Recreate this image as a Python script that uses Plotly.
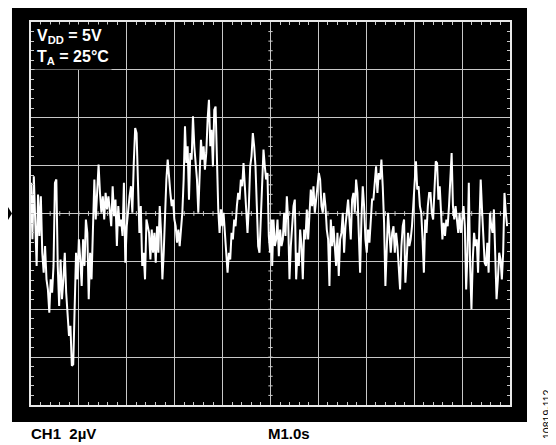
import numpy as np
import plotly.graph_objects as go

# ---- data (µV, read from the oscilloscope capture; 2 µV/div, 1 s/div) ----
seg1_v = [1.28, -1.08, 1.56, -0.39, -2.19, 0.79, -0.94, 0.72, -1.64, -2.47,
          -1.36, -2.75, -3.17, -4.14, -2.75, -3.31, -2.19, 1.28, 1.42, -2.19,
          -3.86, -1.92, -3.58, -2.75, -1.64, -3.31, -4.14, -5.11, -4.69, -6.36,
          -6.30, -3.86, -1.64, -2.75, -1.08, -1.92, -3.03, -1.08, -2.19, -0.25,
          -0.81, -3.58, -1.64, -2.75, -0.81, 1.42, -0.25, 1.28, 2.04, 0.86,
          0.03, 0.72, -0.25, 0.86, 0.17, 0.72, -0.11, -0.53, 1.14, -0.11,
          0.58, -1.36, 0.31, -0.53, -0.25, -0.94, 1.28, -2.06, -0.53, 0.17,
          0.72, 1.14, 0.03, 2.11, 3.57, 3.36, 1.42, -0.81, 0.31, -2.19,
          -1.64, -2.75, -0.25]
seg2_v = [-0.81, -1.92, -0.67, -1.64, -0.81, -2.06, -0.53, -1.64, 0.31, -0.81,
          -2.75, -1.64, 0.31, 1.42, 2.25, 1.42, 0.86, 0.31, 0.58, -0.25,
          -0.53, -1.22, -0.67, -1.36, -0.53, 0.03, 1.42, 3.64, 2.11, 2.81,
          0.58, 2.53, 2.25, 4.06, 2.81, 1.97, 1.42, 0.03, 1.56, 3.08,
          2.25, 2.81, 1.83, 2.53, 3.92, 4.75, 2.81, 3.50, 1.97, 4.33,
          4.47, 2.25, 0.17, -0.81, 0.17, -0.53, 0.03, -0.81, -1.64, -2.47,
          -1.64, -1.92, -0.81, -1.08, -0.25, -0.53, 0.31, 0.86, 0.58, 1.42,
          1.14, 2.11, 1.14, 0.03, -0.81, 0.31, 1.97, 2.39, 3.36, 2.81,
          1.97, 0.31, -1.36, -1.64, -0.25, 1.42, 2.67, 1.97, 1.42, 1.69,
          -0.94, -1.64, -0.25]
seg3_v = [-2.19, -0.25, -1.36, -1.08, -0.25, -1.78, -0.67, -1.36, -1.08, 0.03,
          -0.94, 0.72, -0.25, -2.75, -1.36, -0.53, 0.31, 0.58, -2.75, -1.64,
          -2.19, -0.67, -1.36, -2.75, -0.67, -1.08, 0.17, -1.08, -0.25, 1.00,
          0.31, 1.14, 0.03, 0.58, 1.42, 1.69, 1.42, 0.31, 0.03, 0.86,
          0.31, -0.67, -1.08, -3.03, -0.25, -1.36, -0.53, -1.64, -2.19, -0.81,
          -2.61, -1.08, -0.81, 0.03, -1.64, -0.53, 0.03, 0.58, -0.25, -1.08,
          0.58, 0.86, 0.03, 1.42, 0.86, -1.36, -2.47, -0.25, 1.14, 0.31,
          -1.08, -1.64, -0.67, -1.22, -0.25, 0.58, 0.58, 1.42, 1.97, 0.86,
          1.69, 1.42, 2.25, 1.14, -0.39, -3.03, -1.08, 0.03, -0.81, -1.64]
seg4_v = [-0.81, -0.53, -1.64, -0.81, -1.36, -2.47, -3.17, -1.36, -0.53, -0.25,
          -2.89, -1.92, -0.81, -1.36, -1.08, -0.53, 0.58, 1.69, 2.18, 1.00,
          1.14, 0.31, 0.03, -1.08, -2.47, -0.25, -0.81, 0.31, 0.86, 0.86,
          0.03, -0.25, 1.42, 2.18, 2.11, 0.58, 1.14, -0.25, -1.08, -0.39,
          -0.94, -0.25, -0.53, 0.31, 1.42, 2.53, 0.31, -0.25, 0.31, -0.25,
          -0.81, 0.03, -0.81, -0.25, 0.31, -0.53, -3.17, -1.64, 1.28, -2.19,
          -4.00, -1.92, -0.81, -1.36, -1.08, -2.47, -0.53, 1.42, 0.17, -1.08,
          -2.06, -2.19, -1.22, -2.47, 0.03, -0.53, -0.81, 0.17, -2.19, -3.58,
          -2.75, -1.64, -1.92, -2.75, -1.64, 0.86, 0.03, -0.53]
# time span (s) of each segment
seg_spans = [(0.0, 2.41), (2.465, 5.02), (5.035, 7.51), (7.54, 9.94)]

t = np.concatenate([np.linspace(a, b, len(v)) for (a, b), v in
                    zip(seg_spans, [seg1_v, seg2_v, seg3_v, seg4_v])])
v = np.concatenate([seg1_v, seg2_v, seg3_v, seg4_v])

X_RANGE = [0, 10]
Y_RANGE = [-8, 8]
GRID = "#c8c8c8"
FONT = "Liberation Sans, Arial, sans-serif"

fig = go.Figure()

# centre-line graticule ticks
cx, cy = [], []
for xv in np.arange(0.2, 10, 0.2):
    cx += [xv, xv, None]
    cy += [-0.1, 0.1, None]
for yv in np.arange(-7.6, 8, 0.4):
    cx += [4.955, 5.045, None]
    cy += [yv, yv, None]
fig.add_trace(go.Scatter(x=cx, y=cy, mode="lines",
                         line=dict(color=GRID, width=1),
                         hoverinfo="skip", showlegend=False))

fig.add_trace(go.Scatter(x=t, y=v, mode="lines",
                         line=dict(color="white", width=2),
                         showlegend=False))

axis_common = dict(showgrid=True, gridcolor=GRID, gridwidth=1,
                   zeroline=False, showticklabels=False,
                   ticks="inside", ticklen=3, tickcolor=GRID,
                   showline=True, linecolor="#e8e8e8", linewidth=1.5,
                   mirror="allticks", fixedrange=True)
fig.update_xaxes(range=X_RANGE, dtick=1,
                 minor=dict(dtick=0.2, ticks="inside", ticklen=3,
                            tickcolor=GRID, showgrid=False),
                 **axis_common)
fig.update_yaxes(range=Y_RANGE, dtick=2,
                 minor=dict(dtick=0.4, ticks="inside", ticklen=3,
                            tickcolor=GRID, showgrid=False),
                 **axis_common)

# black screen surround
fig.add_shape(type="rect", xref="paper", yref="paper",
              x0=-0.0397, x1=1.0355, y0=-0.0444, y1=1.0418,
              fillcolor="black", line=dict(width=0), layer="below")
# ground-level marker arrow
fig.add_shape(type="path", xref="paper", yref="paper",
              path="M -0.0647,0.522 L -0.0505,0.522 L -0.0397,0.5 "
                   "L -0.0505,0.478 L -0.0647,0.478 Z",
              fillcolor="black", line=dict(width=0))

fig.add_annotation(xref="paper", yref="paper", x=0.006, y=0.996,
                   xanchor="left", yanchor="top", align="left",
                   text="<b>V<sub>DD</sub> = 5V<br>T<sub>A</sub> = 25°C</b>",
                   showarrow=False, bgcolor="black", borderpad=2,
                   font=dict(family=FONT, size=16, color="white"))
fig.add_annotation(xref="paper", yref="paper", x=-0.002, y=-0.0757,
                   xanchor="left", yanchor="middle",
                   text="<b>CH1  2µV</b>", showarrow=False, borderpad=0,
                   font=dict(family=FONT, size=15, color="black"))
fig.add_annotation(xref="paper", yref="paper", x=0.4927, y=-0.0757,
                   xanchor="left", yanchor="middle",
                   text="<b>M1.0s</b>", showarrow=False, borderpad=0,
                   font=dict(family=FONT, size=15, color="black"))
fig.add_annotation(xref="paper", yref="paper", x=1.0772, y=-0.0235,
                   xanchor="center", yanchor="middle", textangle=-90,
                   text="10819-112", showarrow=False, borderpad=0,
                   font=dict(family=FONT, size=10.5, color="black"))

# page body adds an 8 px margin, so the figure is 8 px smaller each way
fig.update_layout(width=548, height=437,
                  margin=dict(l=23, r=46, t=14, b=40),
                  paper_bgcolor="white", plot_bgcolor="black",
                  showlegend=False)

fig.write_html("out.html")
